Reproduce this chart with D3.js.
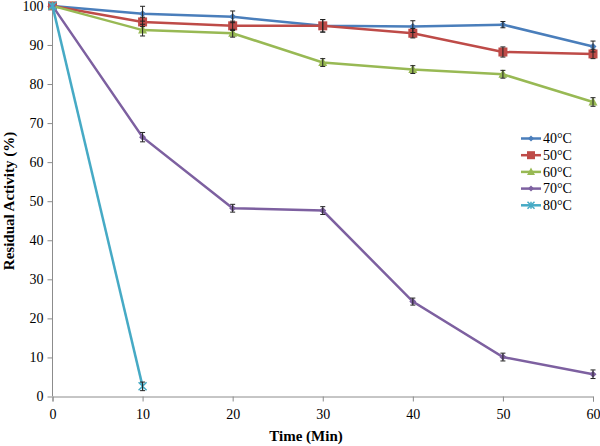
<!DOCTYPE html>
<html><head><meta charset="utf-8">
<script src="https://cdn.jsdelivr.net/npm/d3@7"></script>
<style>body{margin:0;background:#fff}svg{display:block}</style>
</head><body>
<svg id="c" width="600" height="446"></svg>
<script>
const times = [0, 10, 20, 30, 40, 50, 60];
const seriesNames = ["40°C", "50°C", "60°C", "70°C", "80°C"];
const v40 = [100, 98.0, 97.2, 94.9, 94.7, 95.2, 89.6];
const v50 = [100, 95.9, 94.9, 94.9, 93.0, 88.2, 87.7];
const v60 = [100, 93.8, 93.0, 85.5, 83.7, 82.5, 75.4];
const v70 = [100, 66.4, 48.2, 47.6, 24.3, 10.1, 5.7];
const v80 = [100, 2.6];
const e40 = [0, 1.9, 1.5, 1.6, 1.5, 0.8, 1.4];
const e50 = [0, 1.2, 1.2, 1.6, 1.2, 1.3, 1.2];
const e60 = [0, 1.5, 1.0, 1.0, 1.0, 1.0, 1.1];
const e70 = [0, 1.2, 1.0, 1.0, 0.9, 1.0, 1.1];
const e80 = [0, 1.1];
const colors = ["#4a7ebb", "#be4b48", "#98b954", "#7d60a0", "#46aac5"];
const markers = ["diamond", "square", "triangle", "diamond", "cross"];
const xTicks = [0, 10, 20, 30, 40, 50, 60];
const yTicks = [0, 10, 20, 30, 40, 50, 60, 70, 80, 90, 100];

const values = [v40, v50, v60, v70, v80];
const errs = [e40, e50, e60, e70, e80];

const svg = d3.select("#c");
const x = d3.scaleLinear().domain([0, 60]).range([52.5, 593]);
const y = d3.scaleLinear().domain([0, 100]).range([396.5, 5.9]);
const font = "Liberation Serif, Times New Roman, serif";

const xa = svg.append("g").attr("transform", `translate(0,${y(0)})`)
  .call(d3.axisBottom(x).tickValues(xTicks).tickSize(5).tickPadding(8));
const ya = svg.append("g").attr("transform", `translate(${x(0)},0)`)
  .call(d3.axisLeft(y).tickValues(yTicks).tickSize(5).tickPadding(4));
[xa, ya].forEach(a => {
  a.attr("font-family", font).attr("font-size", 14);
  a.selectAll("path,line").attr("stroke", "#8c8c8c").attr("stroke-width", 1);
  a.selectAll("text").attr("font-family", font).attr("font-size", 14).attr("fill", "#000");
});
ya.select(".domain").attr("d", `M0,${y(0)}V${y(100)}`);
ya.selectAll("text").filter(d => d === 100).attr("dy", "0.36em");

const line = d3.line().x((d, i) => x(times[i])).y(d => y(d));

function marker(g, type, cx, cy, col, s) {
  if (type === "diamond") {
    g.append("path").attr("d", `M${cx},${cy-s}L${cx+s},${cy}L${cx},${cy+s}L${cx-s},${cy}Z`).attr("fill", col);
  } else if (type === "square") {
    g.append("rect").attr("x", cx - s).attr("y", cy - s).attr("width", 2*s).attr("height", 2*s).attr("fill", col);
  } else if (type === "triangle") {
    g.append("path").attr("d", `M${cx},${cy-s-1}L${cx+s+0.5},${cy+s-0.5}L${cx-s-0.5},${cy+s-0.5}Z`).attr("fill", col);
  } else if (type === "cross") {
    g.append("path").attr("d", `M${cx-s},${cy-s}L${cx+s},${cy+s}M${cx-s},${cy+s}L${cx+s},${cy-s}M${cx},${cy-s}V${cy+s}`)
      .attr("stroke", col).attr("stroke-width", 1.5);
  }
}
const sizes = [3.5, 4.5, 4, 3.5, 4];

values.forEach((vals, si) => {
  const g = svg.append("g");
  g.append("path").datum(vals).attr("d", line).attr("fill", "none")
    .attr("stroke", colors[si]).attr("stroke-width", 2.5);
  vals.forEach((v, i) => {
    marker(g, markers[si], x(times[i]), y(v), colors[si], sizes[si]);
  });
});
values.forEach((vals, si) => {
  const g = svg.append("g").attr("stroke", "#222").attr("stroke-width", 1);
  vals.forEach((v, i) => {
    const e = errs[si][i];
    if (!e) return;
    const cx = x(times[i]);
    const y1 = y(v + e), y2 = y(v - e);
    g.append("line").attr("x1", cx).attr("x2", cx).attr("y1", y1).attr("y2", y2);
    g.append("line").attr("x1", cx - 2.5).attr("x2", cx + 2.5).attr("y1", y1).attr("y2", y1);
    g.append("line").attr("x1", cx - 2.5).attr("x2", cx + 2.5).attr("y1", y2).attr("y2", y2);
  });
});

const lg = svg.append("g");
seriesNames.forEach((n, i) => {
  const yy = 138.5 + i * 16.7;
  lg.append("line").attr("x1", 521).attr("x2", 541).attr("y1", yy).attr("y2", yy)
    .attr("stroke", colors[i]).attr("stroke-width", 2.5);
  marker(lg, markers[i], 531, yy, colors[i], sizes[i] - 0.5);
  lg.append("text").attr("x", 543).attr("y", yy + 4.8).text(n)
    .attr("font-family", font).attr("font-size", 14).attr("fill", "#000");
});

svg.append("text").attr("x", 306).attr("y", 441).attr("text-anchor", "middle")
  .attr("font-family", font).attr("font-size", 15).attr("font-weight", "bold").text("Time (Min)");
svg.append("text").attr("transform", "translate(14,201) rotate(-90)").attr("text-anchor", "middle")
  .attr("font-family", font).attr("font-size", 15).attr("font-weight", "bold").text("Residual Activity (%)");
</script>
</body></html>
